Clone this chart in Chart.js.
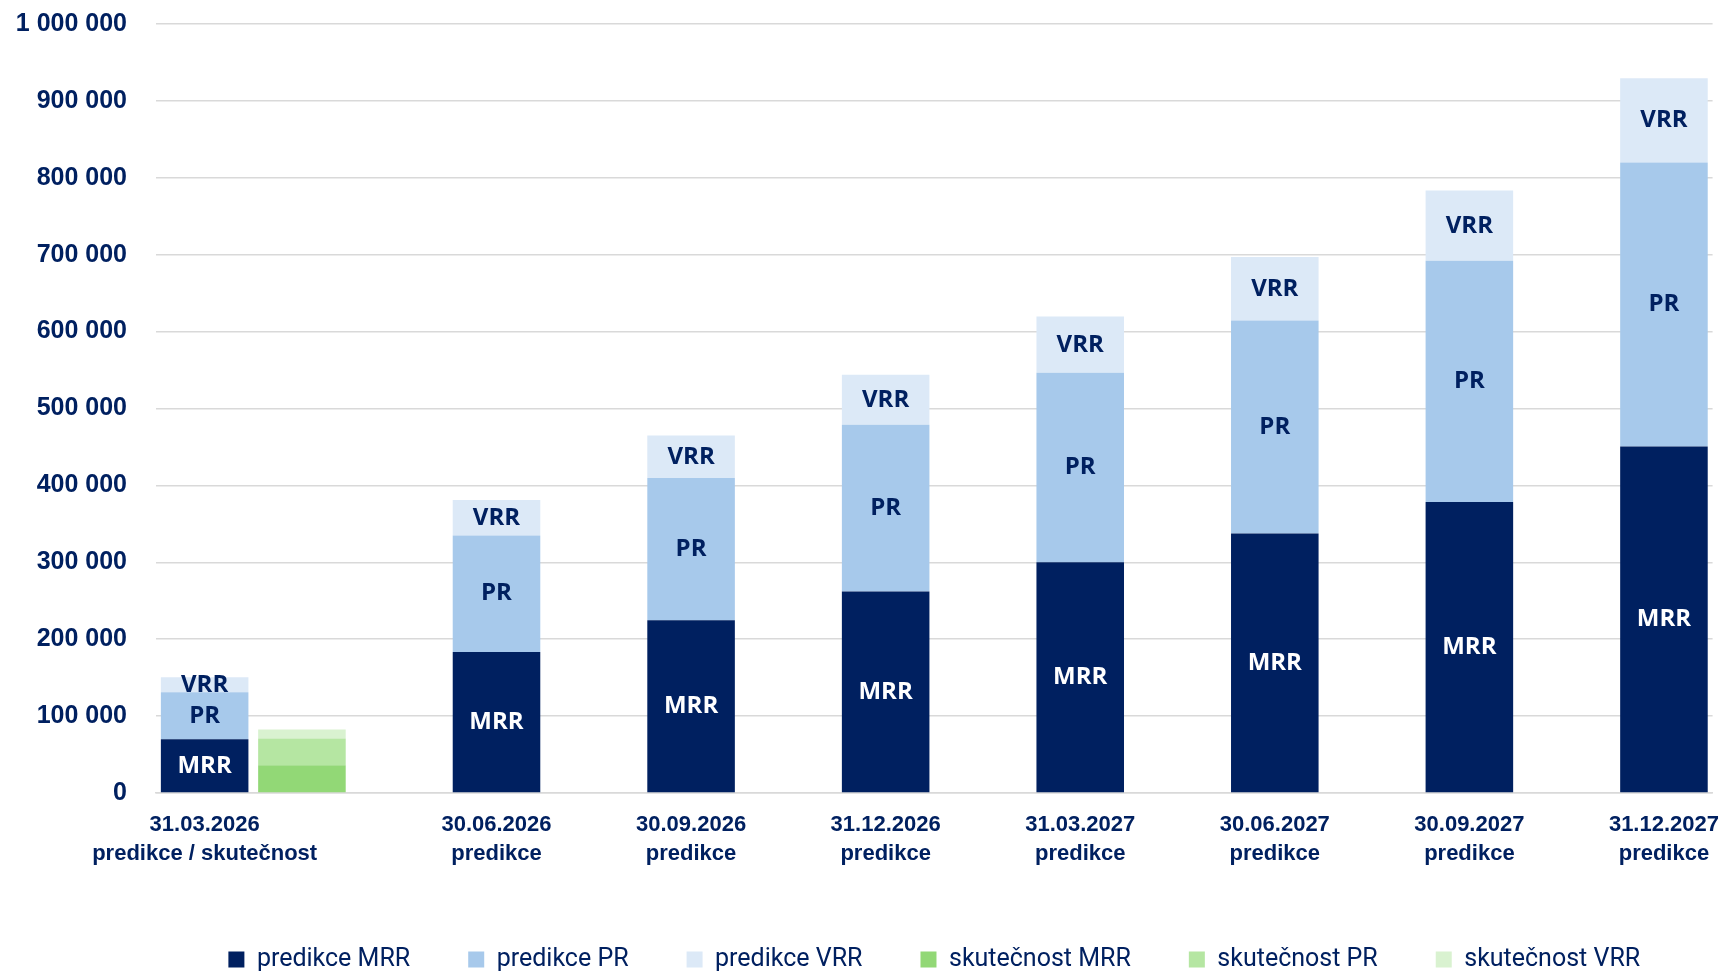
<!DOCTYPE html>
<html lang="cs">
<head>
<meta charset="utf-8">
<title>MRR / PR / VRR – predikce a skutečnost</title>
<script src="https://cdn.jsdelivr.net/npm/chart.js@4.4.1/dist/chart.umd.min.js"></script>
<style>
  html, body { margin: 0; padding: 0; background: #ffffff; }
  #wrap { width: 1719px; height: 974px; }
</style>
</head>
<body>
<div id="wrap"><canvas id="chartCanvas" width="1719" height="974"></canvas></div>
<script>
// Quarter end dates and the note printed under each date
const dates = ['31.03.2026', '30.06.2026', '30.09.2026', '31.12.2026', '31.03.2027', '30.06.2027', '30.09.2027', '31.12.2027'];
const notes = ['predikce / skutečnost', 'predikce', 'predikce', 'predikce', 'predikce', 'predikce', 'predikce', 'predikce'];

// Predicted values per date
const predikceMRR = [70000, 183500, 224500, 262000, 300000, 337500, 378500, 450500];
const predikcePR = [61000, 151500, 185000, 217000, 246500, 277000, 313500, 369500];
const predikceVRR = [19500, 46000, 55500, 65000, 73000, 82500, 91500, 109500];

// Actual values (only known for the first date so far)
const skutecnostMRR = [36000];
const skutecnostPR = [35000];
const skutecnostVRR = [11500];

const yTicks = [0, 100000, 200000, 300000, 400000, 500000, 600000, 700000, 800000, 900000, 1000000];

const navy = '#002060';

// Every date gets two slots on the axis; the actual bar uses the right one,
// the prediction moves to the left one when an actual value exists
const actualSlot = i => 2 * i + 1;
const predSlot = i => 2 * i + 1 - (i < skutecnostMRR.length ? 1 : 0);

const slotLabels = Array(dates.length * 2).fill('');
dates.forEach((d, i) => { slotLabels[predSlot(i)] = [d, notes[i]]; });

function toSlots(values, slotOf) {
    const out = Array(slotLabels.length).fill(null);
    values.forEach((v, i) => { out[slotOf(i)] = v; });
    return out;
}

const fmt = v => String(v).replace(/\B(?=(\d{3})+(?!\d))/g, ' ');

// Writes MRR / PR / VRR into the middle of each prediction segment
const segmentLabels = {
    id: 'segmentLabels',
    afterDatasetsDraw(chart) {
        const ctx = chart.ctx;
        ctx.save();
        ctx.font = 'bold 24px "Open Sans", "Liberation Sans", sans-serif';
        ctx.textAlign = 'center';
        ctx.textBaseline = 'middle';
        chart.data.datasets.forEach((ds, di) => {
            if (!ds.segment) return;
            const meta = chart.getDatasetMeta(di);
            meta.data.forEach((bar, i) => {
                if (ds.data[i] == null) return;
                ctx.fillStyle = ds.segmentColor;
                ctx.fillText(ds.segment, bar.x, (bar.y + bar.base) / 2);
            });
        });
        ctx.restore();
    }
};

const chartCanvas = document.getElementById('chartCanvas');

new Chart(chartCanvas, {
    type: 'bar',
    data: {
        labels: slotLabels,
        datasets: [
            { label: 'predikce MRR', data: toSlots(predikceMRR, predSlot), backgroundColor: navy, segment: 'MRR', segmentColor: '#ffffff' },
            { label: 'predikce PR', data: toSlots(predikcePR, predSlot), backgroundColor: '#a7c9eb', segment: 'PR', segmentColor: navy },
            { label: 'predikce VRR', data: toSlots(predikceVRR, predSlot), backgroundColor: '#dce9f7', segment: 'VRR', segmentColor: navy },
            { label: 'skutečnost MRR', data: toSlots(skutecnostMRR, actualSlot), backgroundColor: '#92d876' },
            { label: 'skutečnost PR', data: toSlots(skutecnostPR, actualSlot), backgroundColor: '#b5e6a2' },
            { label: 'skutečnost VRR', data: toSlots(skutecnostVRR, actualSlot), backgroundColor: '#d9f2d0' }
        ]
    },
    options: {
        responsive: false,
        animation: false,
        categoryPercentage: 1.0,
        barPercentage: 0.9,
        layout: { padding: { top: 24, left: 16, right: 0, bottom: -8 } },
        scales: {
            x: {
                stacked: true,
                afterFit: scale => { scale.height = 96; },
                grid: { display: false, drawTicks: true, tickLength: 18 },
                border: { display: true, color: '#d9d9d9', width: 1.5 },
                ticks: {
                    autoSkip: false,
                    maxRotation: 0,
                    padding: 0,
                    color: navy,
                    font: { family: '"Liberation Sans", Arial, sans-serif', size: 22, weight: 'bold', lineHeight: 1.3 }
                }
            },
            y: {
                stacked: true,
                min: 0,
                max: 1000000,
                afterFit: scale => { scale.width = 140; },
                afterBuildTicks: scale => { scale.ticks = yTicks.map(v => ({ value: v })); },
                grid: { color: '#d9d9d9', lineWidth: 1.5, drawTicks: true, tickLength: 29, tickColor: 'rgba(0,0,0,0)' },
                border: { display: false },
                ticks: {
                    padding: 0,
                    color: navy,
                    font: { family: '"Liberation Sans", Arial, sans-serif', size: 25, weight: 'bold' },
                    callback: v => fmt(v)
                }
            }
        },
        plugins: {
            tooltip: { enabled: false },
            legend: {
                position: 'bottom',
                align: 'center',
                fullSize: false,
                labels: {
                    boxWidth: 16,
                    boxHeight: 16,
                    padding: 58,
                    color: navy,
                    font: { family: 'Roboto, "Noto Sans", sans-serif', size: 25 }
                }
            }
        }
    },
    plugins: [segmentLabels]
});
</script>
</body>
</html>
